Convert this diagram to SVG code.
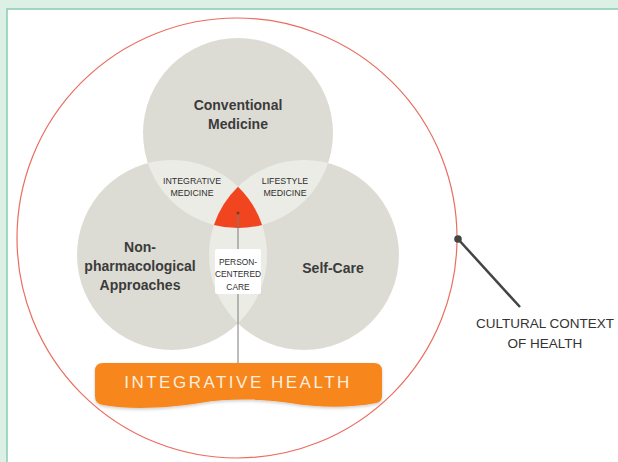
<svg xmlns="http://www.w3.org/2000/svg" width="618" height="462" viewBox="0 0 618 462">
<style>
.circ{fill:#dddcd4}
.lens{fill:#ecece7}
.big{font-family:"Liberation Sans",Arial,sans-serif;font-weight:bold;font-size:14px;fill:#3b3b3b;text-anchor:middle}
.small{font-family:"Liberation Sans",Arial,sans-serif;font-size:8.8px;fill:#2e2e2e;text-anchor:middle}
.note{font-family:"Liberation Sans",Arial,sans-serif;font-size:13.5px;fill:#333;text-anchor:middle}
.banner-t{font-family:"Liberation Sans",Arial,sans-serif;font-size:17px;fill:#fdeedd;letter-spacing:2.5px;text-anchor:middle}
</style>
<defs>
<clipPath id="cT"><circle cx="238" cy="133" r="95"/></clipPath>
<clipPath id="cL"><circle cx="172" cy="255" r="95"/></clipPath>
<filter id="sh" x="-10%" y="-30%" width="120%" height="160%">
<feDropShadow dx="0" dy="1.5" stdDeviation="1.5" flood-color="#000" flood-opacity="0.2"/>
</filter>
</defs>
<rect x="0" y="0" width="618" height="462" fill="#dcf0e6"/>
<rect x="7" y="9" width="620" height="460" fill="#ffffff" stroke="#86cdb0" stroke-width="1.5"/>
<g id="cultural-context">
<circle cx="237" cy="238" r="220" fill="none" stroke="#ea6d60" stroke-width="1.2"/>
</g>
<g id="conventional-medicine">
<circle class="circ" cx="238" cy="133" r="95"/>
<text class="big" x="238" y="110">Conventional</text>
<text class="big" x="238" y="129">Medicine</text>
</g>
<g id="non-pharmacological">
<circle class="circ" cx="172" cy="255" r="95"/>
</g>
<g id="self-care">
<circle class="circ" cx="304" cy="255" r="95"/>
<text class="big" x="333" y="273">Self-Care</text>
</g>
<g id="integrative-medicine">
<circle class="lens" cx="172" cy="255" r="95" clip-path="url(#cT)"/>
<text class="small" x="192" y="184">INTEGRATIVE</text>
<text class="small" x="192" y="196">MEDICINE</text>
</g>
<g id="lifestyle-medicine">
<circle class="lens" cx="304" cy="255" r="95" clip-path="url(#cT)"/>
<text class="small" x="285" y="184">LIFESTYLE</text>
<text class="small" x="285" y="196">MEDICINE</text>
</g>
<g id="person-centered-care">
<circle class="lens" cx="304" cy="255" r="95" clip-path="url(#cL)"/>
</g>
<g id="non-pharmacological-label">
<text class="big" x="140" y="252">Non-</text>
<text class="big" x="140" y="271">pharmacological</text>
<text class="big" x="140" y="290">Approaches</text>
</g>
<g id="core">
<path d="M238,186.67 A95,95 0 0 1 262.11,224.89 A95,95 0 0 1 213.89,224.89 A95,95 0 0 1 238,186.67 Z" fill="#f0451f"/>
</g>
<g id="connectors">
<line x1="238" y1="213" x2="238" y2="364" stroke="#7a7a7a" stroke-width="1"/>
<circle cx="238" cy="213" r="1.5" fill="#7a3a2a"/>
<line x1="458" y1="239" x2="520" y2="307" stroke="#444" stroke-width="2.5"/>
<circle cx="458" cy="239" r="3.8" fill="#444"/>
</g>
<g id="person-centered-label">
<rect x="215" y="249" width="46" height="45" rx="2" fill="#ffffff"/>
<text class="small" x="238" y="265" style="font-size:8.4px">PERSON-</text>
<text class="small" x="238" y="277" style="font-size:8.4px">CENTERED</text>
<text class="small" x="238" y="290" style="font-size:8.4px">CARE</text>
</g>
<g id="integrative-health">
<path d="M103,363 H374 Q382,363 382,371 V396 Q382,402 376,403 C350,408 320,408 290,403 C265,399 230,398 200,403 C170,408 130,410 103,405 Q95,404 95,396 V371 Q95,363 103,363 Z" fill="#f7861d" filter="url(#sh)"/>
<text class="banner-t" x="238" y="388">INTEGRATIVE HEALTH</text>
</g>
<g id="cultural-context-label">
<text class="note" x="545" y="328">CULTURAL CONTEXT</text>
<text class="note" x="545" y="348">OF HEALTH</text>
</g>
</svg>
